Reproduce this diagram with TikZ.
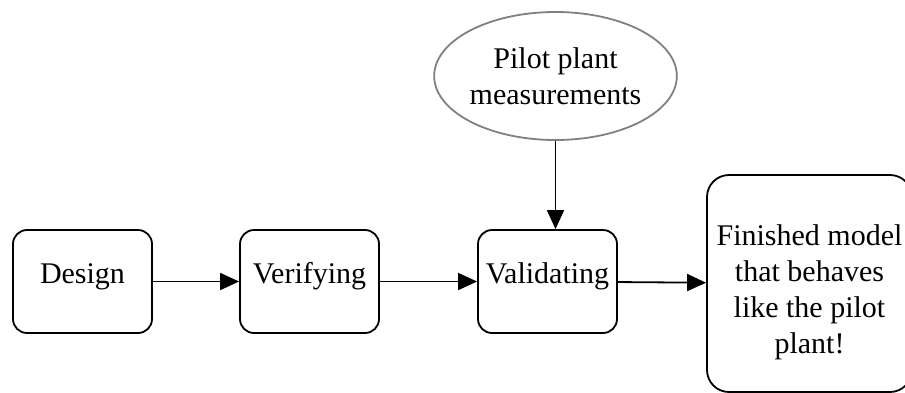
\documentclass[tikz,border=0pt]{standalone}
\usepackage{fontspec}
\setmainfont{Liberation Serif}
\usetikzlibrary{arrows.meta,shapes.geometric}

\begin{document}
\begin{tikzpicture}[x=1pt,y=-1pt,line width=1.8pt,font=\fontsize{30}{36}\selectfont]

        \useasboundingbox (0,0) rectangle (905,392);

        \begin{scope}[every node/.style={draw, rounded corners=14pt, minimum width=139pt, minimum height=103pt, text height=20pt, text depth=17pt}]
          \node (design)   at (82.5,281.5)  {Design};
          \node (verify)   at (309.5,281.5) {Verifying};
          \node (validate) at (547.5,281.5) {Validating};
        \end{scope}

        \node[draw, rounded corners=22pt, minimum width=205pt, minimum height=217pt, align=center] (model) at (809.5,283.5)
          {\rule{0pt}{39pt}Finished model\\that behaves\\like the pilot\\plant!};

        \node[ellipse, draw=gray, minimum width=228pt, minimum height=128pt, inner sep=0pt, align=center] (pilot) at (555.5,76)
          {Pilot plant\\measurements};

        \begin{scope}[every edge/.style={draw, -{Triangle[length=19pt,width=17pt]}}]
          \path (design)   edge (verify);
          \path (verify)   edge (validate);
          \path (validate) edge (model);
          \path (pilot)    edge (pilot |- validate.north);
        \end{scope}

      \end{tikzpicture}
\end{document}
